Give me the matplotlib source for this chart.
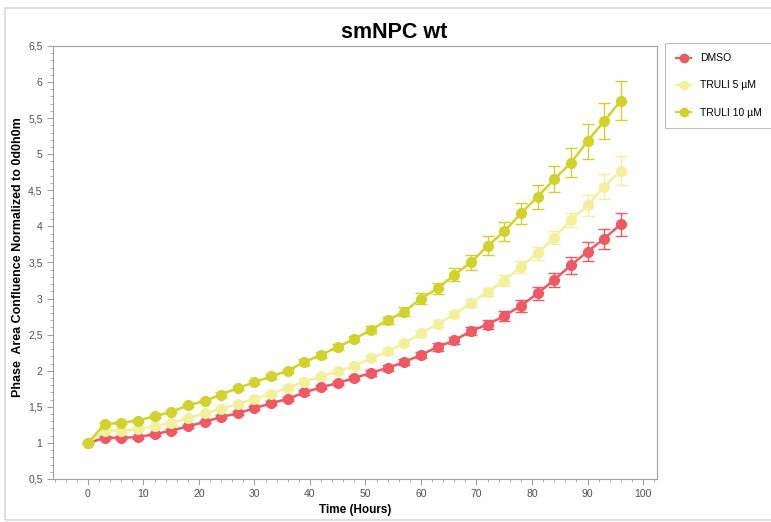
"""Phase area confluence of smNPC wt over time, DMSO vs TRULI doses."""

import matplotlib

matplotlib.use("Agg")
import matplotlib.pyplot as plt  # noqa: E402
from matplotlib.lines import Line2D  # noqa: E402
from matplotlib.patches import Rectangle  # noqa: E402
from matplotlib.ticker import MultipleLocator, FuncFormatter  # noqa: E402

hours = [0, 3, 6, 9, 12, 15, 18, 21, 24, 27, 30, 33, 36, 39, 42, 45, 48,
         51, 54, 57, 60, 63, 66, 69, 72, 75, 78, 81, 84, 87, 90, 93, 96]

dmso = [1.00, 1.07, 1.07, 1.08, 1.12, 1.17, 1.23, 1.29, 1.36, 1.41, 1.48,
        1.55, 1.61, 1.70, 1.77, 1.83, 1.90, 1.97, 2.04, 2.12, 2.22, 2.33,
        2.42, 2.55, 2.64, 2.76, 2.90, 3.07, 3.26, 3.46, 3.65, 3.83, 4.03]
dmso_err = [0.00, 0.02, 0.02, 0.02, 0.02, 0.02, 0.02, 0.02, 0.02, 0.03, 0.03,
            0.03, 0.03, 0.03, 0.03, 0.03, 0.03, 0.04, 0.04, 0.04, 0.04, 0.05,
            0.05, 0.05, 0.06, 0.07, 0.08, 0.09, 0.10, 0.12, 0.13, 0.14, 0.16]

truli5 = [1.00, 1.17, 1.17, 1.19, 1.23, 1.28, 1.34, 1.41, 1.47, 1.54, 1.61,
          1.68, 1.76, 1.85, 1.92, 1.99, 2.07, 2.17, 2.27, 2.38, 2.52, 2.65,
          2.78, 2.94, 3.09, 3.25, 3.44, 3.63, 3.84, 4.09, 4.29, 4.55, 4.77]
truli5_err = [0.00, 0.02, 0.02, 0.02, 0.02, 0.02, 0.02, 0.02, 0.02, 0.03, 0.03,
              0.03, 0.03, 0.03, 0.03, 0.03, 0.04, 0.04, 0.04, 0.04, 0.05, 0.05,
              0.05, 0.06, 0.06, 0.07, 0.08, 0.09, 0.09, 0.10, 0.15, 0.17, 0.20]

truli10 = [1.00, 1.26, 1.28, 1.31, 1.37, 1.43, 1.52, 1.58, 1.67, 1.76, 1.84,
           1.92, 2.00, 2.12, 2.22, 2.33, 2.44, 2.57, 2.70, 2.82, 3.00, 3.14,
           3.33, 3.50, 3.73, 3.93, 4.18, 4.41, 4.65, 4.88, 5.18, 5.46, 5.74]
truli10_err = [0.00, 0.02, 0.02, 0.02, 0.02, 0.02, 0.02, 0.02, 0.03, 0.03, 0.03,
               0.03, 0.03, 0.04, 0.04, 0.04, 0.04, 0.05, 0.05, 0.06, 0.07, 0.08,
               0.09, 0.11, 0.13, 0.13, 0.15, 0.17, 0.18, 0.20, 0.24, 0.25, 0.27]

series = [
    ("DMSO", dmso, dmso_err, "#ee5a64"),
    ("TRULI 5 µM", truli5, truli5_err, "#f3f09c"),
    ("TRULI 10 µM", truli10, truli10_err, "#d2d22c"),
]

plt.rcParams["font.family"] = ["Liberation Sans", "DejaVu Sans"]

fig = plt.figure(figsize=(7.71, 5.22), dpi=100)
# light frame round the whole panel, as in the exported picture
fig.patches.append(Rectangle((0.007, 0.004), 1.1, 0.98, transform=fig.transFigure,
                             fill=False, edgecolor="#d8d8d8", linewidth=1.2))
ax = fig.add_axes([0.0687, 0.0824, 0.7833, 0.8296])

handles = []
for name, vals, err, color in series:
    ax.errorbar(hours, vals, yerr=err, color=color, marker="o", markersize=7,
                linewidth=1.8, elinewidth=1.0, capsize=4, capthick=1.0)
    handles.append(Line2D([], [], color=color, marker="o", markersize=6,
                          linewidth=1.5, label=name))

ax.set_xlim(-6.3, 102.5)
ax.set_ylim(0.5, 6.5)
ax.xaxis.set_major_locator(MultipleLocator(10))
ax.xaxis.set_minor_locator(MultipleLocator(2))
ax.yaxis.set_major_locator(MultipleLocator(0.5))
ax.yaxis.set_minor_locator(MultipleLocator(0.1))
ax.yaxis.set_major_formatter(FuncFormatter(lambda v, _: f"{v:g}".replace(".", ",")))
ax.tick_params(which="both", colors="#a0a0a0", labelcolor="#505050", labelsize=7.5)
ax.tick_params(which="major", length=4)
ax.tick_params(which="minor", length=2.5)
for sp in ax.spines.values():
    sp.set_color("#a0a0a0")

fig.text(0.4605, 0.023, "Time (Hours)", ha="center", va="center", fontsize=8.5,
         fontweight="bold")
fig.text(0.023, 0.507, "Phase  Area Confluence Normalized to 0d0h0m", rotation=90,
         ha="center", va="center", fontsize=9, fontweight="bold")
fig.text(0.511, 0.938, "smNPC wt", ha="center", va="center", fontsize=15.5,
         fontweight="bold")

leg = fig.legend(handles=handles, loc="upper left", bbox_to_anchor=(0.863, 0.918),
                 fontsize=7.5, frameon=True, fancybox=False, edgecolor="#b0b0b0",
                 handlelength=1.5, handletextpad=0.8, labelspacing=1.65,
                 borderpad=1.0, borderaxespad=0)
leg.get_frame().set_linewidth(0.8)

fig.savefig("out.png", dpi=100)
